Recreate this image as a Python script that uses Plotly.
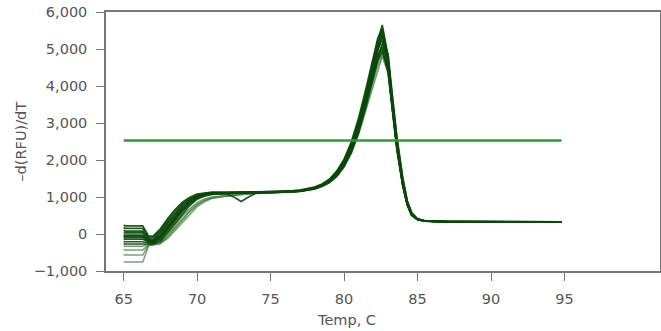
import plotly.graph_objects as go

temps = [65, 65.1, 66.3, 66.7, 67, 67.5, 68, 68.5, 69, 69.5, 70, 70.5, 71, 72, 72.5, 73, 73.5, 74,
         75, 76, 77, 78, 78.5, 79, 79.5, 80, 80.5, 81, 81.5, 82, 82.3, 82.6, 83, 83.3, 83.6, 84,
         84.3, 84.6, 85, 85.5, 86, 87, 88, 90, 94.8]

curve_a = [180, 150, 150, -80, -100, 100, 380, 620, 820, 960, 1060, 1100, 1120, 1120, 1125, 1130, 1130, 1130, 1135, 1145, 1180, 1260, 1340, 1470, 1680, 1990, 2450, 3080, 3850, 4750, 5250, 5650, 4800, 3550, 2450, 1380, 830, 530, 400, 355, 342, 335, 332, 330, 330]
curve_b = [100, 80, 80, -120, -150, 60, 320, 560, 780, 930, 1040, 1090, 1110, 1115, 1120, 1125, 1125, 1130, 1130, 1140, 1170, 1250, 1330, 1450, 1650, 1950, 2380, 2980, 3750, 4650, 5150, 5550, 4750, 3500, 2400, 1350, 810, 520, 395, 352, 340, 334, 332, 330, 330]
curve_c = [40, 30, 30, -150, -180, 20, 280, 520, 750, 910, 1030, 1080, 1100, 1110, 1110, 1120, 1120, 1125, 1130, 1140, 1165, 1240, 1320, 1440, 1630, 1920, 2340, 2920, 3680, 4550, 5050, 5450, 4700, 3450, 2350, 1320, 800, 510, 390, 350, 338, 333, 331, 330, 330]
curve_d = [-20, -30, -30, -180, -200, -40, 220, 470, 700, 880, 1010, 1070, 1100, 1110, 1110, 1115, 1120, 1120, 1125, 1135, 1160, 1230, 1300, 1410, 1590, 1860, 2250, 2800, 3550, 4400, 4950, 5350, 4850, 3700, 2600, 1500, 900, 570, 410, 358, 342, 335, 332, 330, 330]
curve_e = [-80, -90, -90, -200, -220, -80, 180, 430, 670, 860, 1000, 1060, 1090, 1100, 1105, 1110, 1115, 1120, 1125, 1135, 1160, 1240, 1320, 1440, 1640, 1950, 2400, 3000, 3750, 4550, 5000, 5250, 4500, 3350, 2300, 1300, 790, 510, 390, 350, 338, 333, 331, 330, 330]
curve_f = [-130, -140, -140, -210, -230, -120, 140, 390, 640, 840, 990, 1050, 1080, 1095, 1100, 1105, 1110, 1115, 1120, 1130, 1155, 1220, 1290, 1390, 1560, 1820, 2200, 2750, 3450, 4250, 4800, 5150, 4700, 3650, 2600, 1500, 900, 570, 410, 358, 342, 335, 332, 330, 330]
curve_g = [-200, -210, -210, -240, -250, -150, 100, 350, 600, 810, 970, 1040, 1080, 1095, 1100, 1105, 1110, 1115, 1120, 1130, 1160, 1240, 1320, 1440, 1630, 1920, 2350, 2900, 3600, 4350, 4800, 5050, 4350, 3250, 2250, 1280, 780, 500, 385, 348, 337, 332, 331, 330, 330]
curve_h = [-260, -270, -270, -270, -270, -200, 50, 300, 550, 770, 940, 1020, 1070, 1090, 1000, 880, 1000, 1100, 1115, 1130, 1160, 1230, 1310, 1420, 1600, 1880, 2300, 2850, 3550, 4250, 4700, 4950, 4400, 3350, 2350, 1350, 820, 530, 395, 352, 340, 334, 332, 330, 330]
curve_i = [-320, -330, -330, -280, -290, -260, -80, 150, 380, 600, 780, 900, 980, 1040, 1060, 1080, 1095, 1105, 1115, 1130, 1155, 1220, 1290, 1400, 1570, 1840, 2250, 2780, 3450, 4100, 4550, 4850, 4450, 3450, 2450, 1420, 860, 550, 400, 355, 340, 334, 332, 330, 330]
curve_j = [-420, -430, -430, -300, -290, -260, -120, 100, 330, 550, 740, 870, 960, 1030, 1050, 1070, 1090, 1100, 1110, 1125, 1150, 1210, 1280, 1380, 1540, 1800, 2200, 2700, 3350, 4000, 4450, 4800, 4350, 3350, 2350, 1350, 830, 530, 395, 352, 340, 334, 332, 330, 330]
curve_k = [-560, -570, -570, -300, -280, -230, 0, 250, 480, 680, 850, 950, 1000, 1040, 1055, 1075, 1090, 1100, 1110, 1125, 1155, 1230, 1300, 1410, 1590, 1870, 2300, 2850, 3550, 4300, 4750, 5000, 4400, 3300, 2300, 1300, 800, 520, 392, 350, 338, 333, 331, 330, 330]
curve_l = [-750, -760, -760, -320, -290, -240, -40, 190, 420, 630, 810, 920, 980, 1030, 1055, 1070, 1090, 1100, 1110, 1125, 1150, 1220, 1295, 1405, 1580, 1860, 2280, 2820, 3500, 4200, 4650, 4900, 4500, 3450, 2450, 1420, 860, 550, 400, 355, 340, 334, 332, 330, 330]
curve_m = [240, 220, 220, -60, -60, 140, 420, 660, 860, 990, 1080, 1110, 1130, 1130, 1135, 1135, 1140, 1140, 1140, 1150, 1185, 1270, 1350, 1480, 1700, 2020, 2500, 3150, 3950, 4800, 5300, 5500, 4650, 3400, 2350, 1330, 810, 520, 395, 352, 340, 334, 332, 330, 330]
curve_n = [-60, -60, -60, -170, -190, -60, 200, 450, 690, 870, 1000, 1070, 1095, 1105, 1110, 1115, 1120, 1120, 1125, 1135, 1165, 1245, 1325, 1450, 1660, 1970, 2420, 3020, 3780, 4600, 5100, 5400, 4600, 3400, 2350, 1320, 800, 515, 392, 350, 338, 333, 331, 330, 330]

light_curves = [curve_i, curve_j, curve_k, curve_l]
dark_curves = [curve_a, curve_b, curve_c, curve_d, curve_e, curve_f, curve_g, curve_h, curve_m, curve_n]

threshold_x = [65, 94.8]
threshold_value = 2530

x_ticks = [65, 70, 75, 80, 85, 90, 95]
y_ticks = [-1000, 0, 1000, 2000, 3000, 4000, 5000, 6000]

fig = go.Figure()
for c in light_curves:
    fig.add_trace(go.Scatter(x=temps, y=c, mode="lines",
                             line=dict(color="rgba(70,130,70,0.75)", width=1.5),
                             showlegend=False, hoverinfo="skip"))
for c in dark_curves:
    fig.add_trace(go.Scatter(x=temps, y=c, mode="lines",
                             line=dict(color="rgba(10,72,10,0.9)", width=1.7),
                             showlegend=False, hoverinfo="skip"))
fig.add_trace(go.Scatter(x=threshold_x, y=[threshold_value] * len(threshold_x), mode="lines",
                         line=dict(color="#2f9a2f", width=2.5), showlegend=False))

axis_font = dict(family="DejaVu Sans, sans-serif", size=14.5, color="#555")
fig.update_layout(
    width=661, height=331,
    margin=dict(l=106, r=1, t=12, b=60),
    paper_bgcolor="white", plot_bgcolor="white",
    xaxis=dict(range=[63.8, 101.5], tickvals=x_ticks, ticks="outside", ticklen=8,
               tickcolor="#777", showline=True, linecolor="#777", linewidth=1.5, mirror=True,
               showgrid=False, zeroline=False, tickfont=axis_font, ticklabelstandoff=6,
               automargin=False, ticklabeloverflow="allow"),
    yaxis=dict(range=[-1000, 6000], tickvals=y_ticks, tickformat=",", ticks="outside", ticklen=8,
               tickcolor="#777", showline=True, linecolor="#777", linewidth=1.5, mirror=True,
               showgrid=False, zeroline=False, tickfont=axis_font, ticklabelstandoff=6,
               automargin=False, ticklabeloverflow="allow"),
    annotations=[
        dict(text="Temp, C", xref="paper", yref="paper", x=0.435, y=-0.189,
             xanchor="center", yanchor="middle", showarrow=False, font=axis_font),
        dict(text="\u2013d(RFU)/dT", xref="paper", yref="paper", x=-0.155, y=0.5,
             xanchor="center", yanchor="middle", textangle=-90, showarrow=False, font=axis_font),
    ],
)
fig.write_html("out.html", config={"displayModeBar": False},
               post_script="document.body.style.margin='0';document.body.style.overflow='hidden';")
